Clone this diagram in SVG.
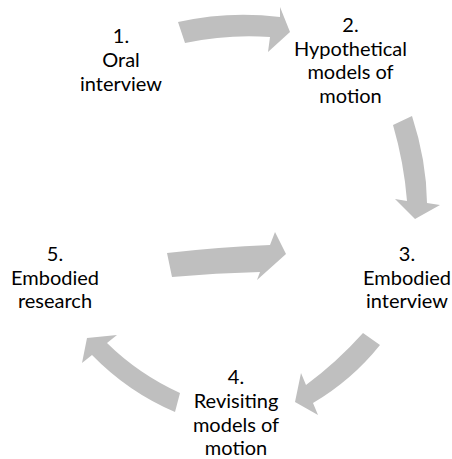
<svg xmlns="http://www.w3.org/2000/svg" width="452" height="459" viewBox="0 0 452 459">
<style>
.arrow{fill:#bfbfbf;stroke:none}
.lbl{font-family:Lato,"Liberation Sans",sans-serif;font-size:20px;fill:#000;text-anchor:middle}
</style>
<rect width="452" height="459" fill="#fff"/>
<g id="connectors">
<path class="arrow" d="M178,22 Q229,10.5 280,17 L280,7 L290,32 L268,52 L270,37 Q228,34 185,43 Z"/>
<path class="arrow" d="M412,116 Q426.5,160.5 427,203 L440,205 L415,219 L395,199 L407,201 Q404,163 393,125 Z"/>
<path class="arrow" d="M167,253 Q219,247 270,245 L275,232 L286,254 L257,280 L260,272 Q216,273 172,277 Z"/>
<path class="arrow" d="M363,333 Q337,362 306,385 L301,373 L295,402 L318,415 L313,403 Q352,380 380,345 Z"/>
<path class="arrow" d="M180,393 Q138.5,374 107,343 L117,335 L87,338 L82,363 L92,355 Q128,392 175,412 Z"/>
</g>
<g id="node1">
<text class="lbl" x="121" y="43">1.</text>
<text class="lbl" x="121" y="67">Oral</text>
<text class="lbl" x="121" y="91">interview</text>
</g>
<g id="node2">
<text class="lbl" x="350.5" y="32">2.</text>
<text class="lbl" x="350.5" y="56">Hypothetical</text>
<text class="lbl" x="350.5" y="79">models of</text>
<text class="lbl" x="350.5" y="103">motion</text>
</g>
<g id="node3">
<text class="lbl" x="407" y="261">3.</text>
<text class="lbl" x="407" y="285">Embodied</text>
<text class="lbl" x="407" y="308">interview</text>
</g>
<g id="node4">
<text class="lbl" x="236" y="384">4.</text>
<text class="lbl" x="236" y="408">Revisiting</text>
<text class="lbl" x="236" y="432">models of</text>
<text class="lbl" x="236" y="455">motion</text>
</g>
<g id="node5">
<text class="lbl" x="55" y="261">5.</text>
<text class="lbl" x="55" y="285">Embodied</text>
<text class="lbl" x="55" y="308">research</text>
</g>
</svg>
